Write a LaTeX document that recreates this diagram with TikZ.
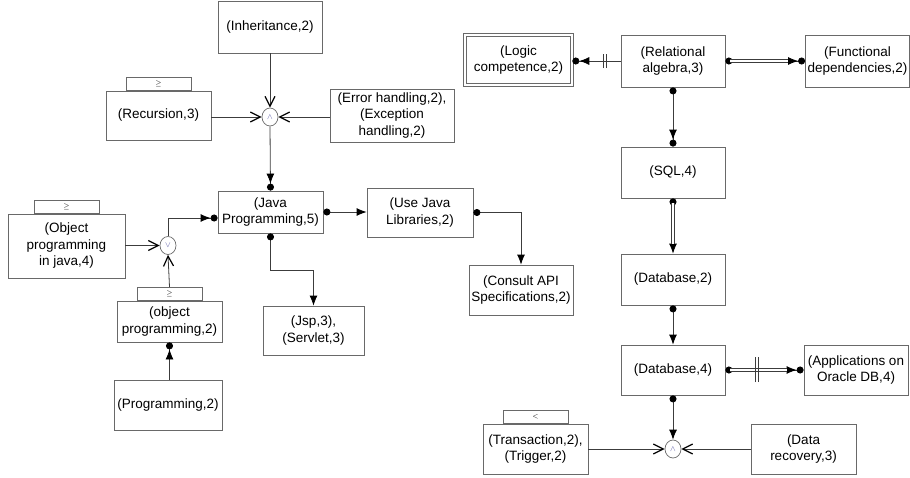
\documentclass[tikz,border=0pt]{standalone}
\usepackage{fontspec}
\setmainfont{Liberation Sans}
\usetikzlibrary{arrows.meta,shapes.geometric}
\definecolor{edge}{RGB}{105,105,105}
\definecolor{wire}{RGB}{60,60,60}
\tikzset{
  lbl/.style={font=\fontsize{13.5}{16.5}\selectfont},
  box/.style 2 args={lbl, draw=edge, line width=0.8pt, align=center, inner sep=1pt,
    minimum width=#1, minimum height=#2},
  tabbox/.style={draw=edge, line width=0.8pt, minimum width=65pt, minimum height=13pt,
    inner sep=0pt, font=\scriptsize, anchor=south},
  junc/.style={draw=edge, line width=0.7pt, ellipse, minimum width=16pt, minimum height=18pt,
    inner sep=0pt, font=\footnotesize, text=gray!70!blue},
  wirestyle/.style={draw=wire, line width=0.8pt},
  tri/.style={Latex[length=10pt,width=8pt,black]},
  intojunc/.style={wirestyle, -{Straight Barb[length=10pt,width=10pt,line width=1.2pt,black]}},
  link/.style={wirestyle, {Circle[length=7pt,black]}-{Latex[length=10pt,width=8pt,black]}},
  linkdot/.style={wirestyle, {Circle[length=7pt,black]}-{Latex[length=10pt,width=8pt,black] Circle[length=7pt,black]}},
  feed/.style={wirestyle, -{Latex[length=10pt,width=8pt,black] Circle[length=7pt,black]}},
  twin/.style={draw=wire, line width=1pt, double=white, double distance=1.5pt},
  bar/.style={draw=wire, line width=0.8pt},
}
\begin{document}
\begin{tikzpicture}[x=1pt,y=-1pt]
\useasboundingbox (0,0) rectangle (910,477);

% ---------------- left cluster ----------------
\node[box={104pt}{52pt}] (inh) at (270,27) {(Inheritance,2)};
\node[box={105pt}{49pt}] (rec) at (158.5,115.5) {(Recursion,3)};
\node[tabbox] (rect) at (rec.north) {$\geq$};
\node[box={124pt}{53pt}] (err) at (392,115.5) {(Error handling,2),\\(Exception\\handling,2)};
\node[junc] (and1) at (270,117) {$\wedge$};

\node[box={105pt}{42pt}] (java) at (270.5,212) {(Java\\Programming,5)};
\node[box={117pt}{64pt}] (opj) at (66.5,246) {(Object\\programming\\in java,4)};
\node[tabbox] (opjt) at (opj.north) {$\geq$};
\node[junc] (or1) at (168,245.5) {$\vee$};
\node[box={105pt}{41pt}] (op2) at (169.5,321.5) {(object\\programming,2)};
\node[tabbox] (op2t) at (op2.north) {$\geq$};
\node[box={108pt}{50pt}] (prog) at (168,405) {(Programming,2)};
\node[box={101pt}{49pt}] (jsp) at (313.5,330.5) {(Jsp,3),\\(Servlet,3)};
\node[box={106pt}{49pt}] (lib) at (420,212.5) {(Use Java\\Libraries,2)};
\node[box={104pt}{50pt}] (api) at (521,290) {(Consult API\\Specifications,2)};

\draw[intojunc] (inh.south) -- (and1.north);
\draw[intojunc] (rec.east |- and1) -- (and1.west);
\draw[intojunc] (err.west |- and1) -- (and1.east);
\draw[feed] (and1.south) -- (java.north);

\draw[intojunc] (opj.east |- or1) -- (or1.west);
\draw[intojunc] (op2t.north) -- (or1.south);
\draw[feed] (or1.north) |- ([yshift=-6pt]java.west);
\draw[feed] (prog.north -| op2t.north) -- (op2.south -| op2t.north);

\draw[link] (java.south) -- ++(0,-37pt) -| (jsp.north);
\draw[link] (java.east) -- (lib.west |- java.east);
\draw[link] (lib.east) -| (api.north);

% ---------------- right cluster ----------------
\node[box={107pt}{50pt}, double=white, double distance=2.2pt, line width=0.6pt] (logic) at (518.5,60) {(Logic\\competence,2)};
\node[box={104pt}{52pt}] (rel) at (673,61) {(Relational\\algebra,3)};
\node[box={104pt}{52pt}] (fd) at (857.5,61) {(Functional\\dependencies,2)};
\node[box={104pt}{51pt}] (sql) at (673,172.5) {(SQL,4)};
\node[box={104pt}{51pt}] (db2) at (673,279.5) {(Database,2)};
\node[box={104pt}{50pt}] (db4) at (673,370) {(Database,4)};
\node[box={104pt}{50pt}] (app) at (856,370) {(Applications on\\Oracle DB,4)};
\node[box={105pt}{50pt}] (tr) at (535.5,449) {(Transaction,2),\\(Trigger,2)};
\node[tabbox] (trt) at (tr.north) {$<$};
\node[junc] (and2) at (673,449) {$\wedge$};
\node[box={105pt}{50pt}] (dr) at (803.5,449) {(Data\\recovery,3)};

% relational algebra -> logic competence, with a double bar
\draw[feed] (rel.west) -- coordinate[pos=0.32] (b1) (logic.east |- rel.west);
\draw[bar] ([xshift=-1.6pt]b1) ++(0,-7pt) -- ++(0,14pt);
\draw[bar] ([xshift=1.6pt]b1) ++(0,-7pt) -- ++(0,14pt);

% relational algebra -> functional dependencies, double line
\draw[linkdot] (rel.east) -- (fd.west);
\draw[twin, shorten <=5pt, shorten >=17pt] (rel.east) -- (fd.west);

\draw[linkdot] (rel.south) -- (sql.north);

% SQL -> database 2, double line
\draw[link] (sql.south) -- (db2.north);
\draw[twin, shorten <=5pt, shorten >=10pt] (sql.south) -- (db2.north);

\draw[link] (db2.south) -- (db4.north);

% database 4 -> applications, double line with a double bar
\draw[linkdot] (db4.east) -- coordinate[pos=0.4] (b2) (app.west);
\draw[twin, shorten <=5pt, shorten >=17pt] (db4.east) -- (app.west);
\draw[bar] ([xshift=-1.6pt]b2) ++(0,-12pt) -- ++(0,25pt);
\draw[bar] ([xshift=1.6pt]b2) ++(0,-12pt) -- ++(0,25pt);

\draw[link] (db4.south) -- (and2.north);
\draw[intojunc] (tr.east) -- (and2.west);
\draw[intojunc] (dr.west) -- (and2.east);
\end{tikzpicture}
\end{document}
